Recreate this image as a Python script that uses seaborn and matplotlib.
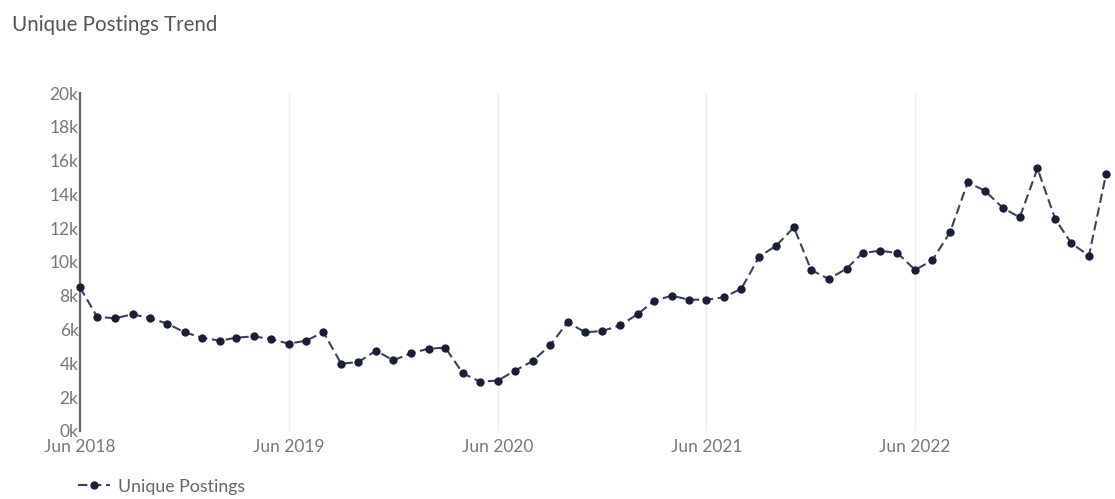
import matplotlib
matplotlib.use("Agg")
import matplotlib.pyplot as plt
import matplotlib.dates as mdates
import matplotlib.ticker as mticker
import pandas as pd
import seaborn as sns

# monthly unique postings, Jun 2018 .. May 2023
months = pd.date_range("2018-06-01", "2023-05-01", freq="MS")
postings = [
    8500, 6760, 6670, 6900, 6690, 6350, 5840,
    5520, 5340, 5520, 5600, 5440, 5170, 5340, 5840, 3980, 4080, 4750, 4180,
    4600, 4870, 4930, 3410, 2920, 2980, 3570, 4140, 5090, 6430, 5840, 5920,
    6250, 6920, 7690, 8010, 7770, 7770, 7910, 8420, 10300, 10970, 12050, 9530,
    8990, 9610, 10530, 10670, 10530, 9530, 10100, 11760, 14710, 14220, 13210, 12640,
    15540, 12540, 11120, 10370, 15210,
]
tick_dates = pd.to_datetime(["2018-06-01", "2019-06-01", "2020-06-01", "2021-06-01", "2022-06-01"])
series_name = "Unique Postings"

df = pd.DataFrame({"month": months, "postings": postings})

sns.set_style("white")
plt.rcParams["font.family"] = ["Lato", "DejaVu Sans"]

fig = plt.figure(figsize=(11.15, 4.99), dpi=100)
ax = fig.add_axes([0.0717, 0.1363, 0.9203, 0.6773])

line_col = "#3c4256"
dot_col = "#1a1f38"
sns.lineplot(data=df, x="month", y="postings", ax=ax, color=line_col,
             marker="o", markersize=6, markeredgewidth=0, markerfacecolor=dot_col,
             linewidth=1.5, linestyle=(0, (4.5, 2.2)), label=series_name,
             legend=False, clip_on=False, zorder=3)

ax.set_ylim(0, 20000)
ax.set_xlim(months[0], months[-1])
ax.yaxis.set_major_locator(mticker.MultipleLocator(2000))
ax.yaxis.set_major_formatter(mticker.FuncFormatter(lambda v, p: f"{int(v/1000)}k"))
ax.set_xticks(tick_dates)
ax.xaxis.set_major_formatter(mdates.DateFormatter("%b %Y"))
ax.set_xlabel("")
ax.set_ylabel("")

for s in ["top", "right", "bottom"]:
    ax.spines[s].set_visible(False)
ax.spines["left"].set_color("#666666")
ax.spines["left"].set_linewidth(1.6)
ax.grid(axis="x", color="#ededed", linewidth=1)
ax.grid(axis="y", visible=False)
ax.tick_params(axis="both", colors="#777777", labelsize=12.5, length=0, pad=1)
ax.tick_params(axis="x", pad=6)

fig.text(0.011, 0.95, "Unique Postings Trend", fontsize=14.8, color="#555555",
         ha="left", va="center")

handles, labels = ax.get_legend_handles_labels()
fig.legend(handles, labels, loc="center left", bbox_to_anchor=(0.056, 0.025),
           frameon=False, fontsize=12.8, labelcolor="#666666", handlelength=1.8,
           handletextpad=0.4)

fig.savefig("out.png", dpi=100)
